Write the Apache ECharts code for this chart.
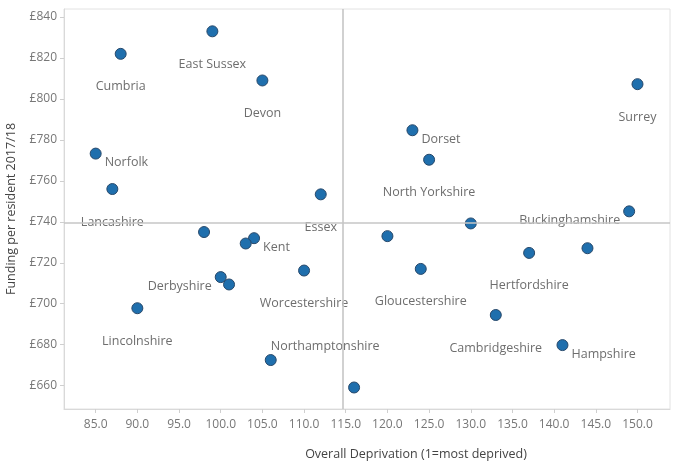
<!DOCTYPE html>
<html>
<head>
<meta charset="utf-8">
<script src="https://cdn.jsdelivr.net/npm/echarts@6/dist/echarts.min.js"></script>
<style>html,body{margin:0;padding:0;background:#fff;}#c{width:700px;height:469px;}</style>
</head>
<body>
<div id="c"></div>
<script>
// ---- data ----
var counties = ["Cumbria","East Sussex","Devon","Norfolk","Lancashire","Essex","","Kent","","Derbyshire","","Worcestershire","Lincolnshire","Northamptonshire","Surrey","Dorset","North Yorkshire","Buckinghamshire","","","Hertfordshire","","Gloucestershire","Cambridgeshire","Hampshire",""];
var deprivation = [88,99,105,85,87,112,98,104,103,100,101,110,90,106,150,123,125,149,130,120,137,144,124,133,141,116];
var funding = [822,833,809,773.3,756,753.4,735,732,729.4,713,709.4,716.2,697.8,672.5,807.2,784.7,770.3,745.1,739.2,733,724.8,727.1,717,694.5,679.8,659.1];
var xTicks = [85,90,95,100,105,110,115,120,125,130,135,140,145,150];
var yTicks = [660,680,700,720,740,760,780,800,820,840];
var avgDeprivation = 114.6;
var avgFunding = 739.6;

// ---- label layout (style, not data) ----
var labelPlacement = {
  "Norfolk":"right","Dorset":"right","Kent":"right","Hampshire":"right",
  "Buckinghamshire":"left","Derbyshire":"left",
  "Northamptonshire":"topright"
};
function labelFor(name){
  var p = labelPlacement[name] || "below";
  var base = {show: name !== "", position: "inside", formatter: "{b}",
    color: "#6e6e6e", fontSize: 12.5, fontFamily: "Open Sans"};
  if (p === "below") { base.align = "center"; base.verticalAlign = "middle"; base.offset = [0, 33]; }
  else if (p === "right") { base.align = "left"; base.verticalAlign = "middle"; base.offset = [9, 9]; }
  else if (p === "left") { base.align = "right"; base.verticalAlign = "middle"; base.offset = [-9, 9]; }
  else { base.align = "left"; base.verticalAlign = "middle"; base.offset = [0, -14]; }
  return base;
}

var points = counties.map(function(n, i){
  return {name: n, value: [deprivation[i], funding[i]], label: labelFor(n)};
});

var chart = echarts.init(document.getElementById('c'), null, {renderer: 'canvas'});
chart.setOption({
  animation: false,
  textStyle: {fontFamily: "Open Sans"},
  grid: {left: 64, right: 30, top: 9, bottom: 60, show: true, borderColor: "#e2e2e2", borderWidth: 1,
    containLabel: false, outerBoundsMode: "none"},
  xAxis: {
    type: "value", min: 81.2, max: 153.9,
    name: "Overall Deprivation (1=most deprived)", nameLocation: "middle", nameGap: 39,
    nameTextStyle: {color: "#444", fontSize: 12.5, fontFamily: "Open Sans", padding: [0,0,0,98]},
    axisLine: {show: true, lineStyle: {color: "#d9d9d9"}},
    axisTick: {show: true, length: 4, lineStyle: {color: "#cfcfcf"}, customValues: xTicks},
    axisLabel: {customValues: xTicks, color: "#777", fontSize: 12, margin: 10,
      formatter: function(v){ return v.toFixed(1); }},
    splitLine: {show: false}
  },
  yAxis: {
    type: "value", min: 648.6, max: 843.9,
    name: "Funding per resident 2017/18", nameLocation: "middle", nameGap: 46,
    nameTextStyle: {color: "#444", fontSize: 12.5, fontFamily: "Open Sans"},
    axisLine: {show: true, lineStyle: {color: "#d9d9d9"}},
    axisTick: {show: true, length: 4, lineStyle: {color: "#cfcfcf"}, customValues: yTicks},
    axisLabel: {customValues: yTicks, color: "#777", fontSize: 12, margin: 7,
      formatter: function(v){ return "£" + v; }},
    splitLine: {show: false}
  },
  series: [
    {
      type: "scatter", symbolSize: 11, z: 2,
      itemStyle: {color: "#1f6fad", borderColor: "#27486a", borderWidth: 1, opacity: 1},
      data: points
    },
    {
      type: "scatter", data: [], z: 5,
      markLine: {
        silent: true, symbol: "none", label: {show: false},
        lineStyle: {color: "#c6c6c6", width: 1.6, type: "solid"},
        data: [{xAxis: avgDeprivation}, {yAxis: avgFunding}]
      }
    }
  ]
});
</script>
</body>
</html>
